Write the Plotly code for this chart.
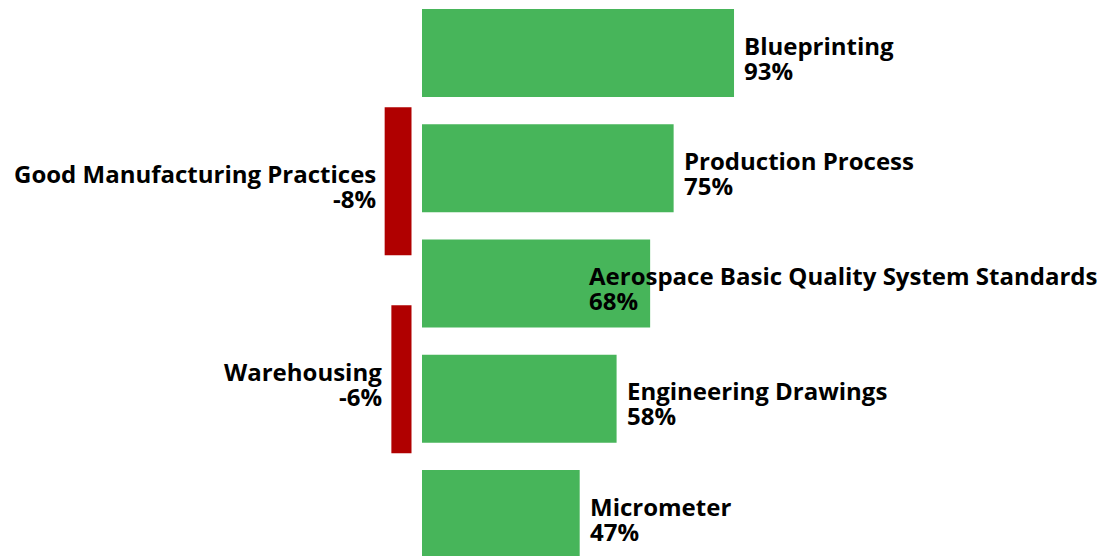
import plotly.graph_objects as go

# Skills gaining share (green) and losing share (red), in percent
gain_skills = ["Blueprinting", "Production Process", "Aerospace Basic Quality System Standards",
               "Engineering Drawings", "Micrometer"]
gain_values = [93, 75, 68, 58, 47]

loss_skills = ["Good Manufacturing Practices", "Warehousing"]
loss_values = [-8, -6]

# ---- layout constants (pixels) ----
W, H = 1111, 556
PX_PER_PCT = 3.355
GAIN_ZERO_PX = 422
LOSS_ZERO_PX = 411.5
GAIN_FIRST_CENTER, GAIN_STEP, GAIN_BAR = 53, 115.25, 88
LOSS_FIRST_CENTER, LOSS_STEP, LOSS_BAR = 181.2, 198, 148

GREEN = "#47B55A"
RED = "#B00000"
FONT = dict(family="Open Sans", size=24, color="#000000")

# horizontal shift of each gain label from its bar end (one label is pulled back to stay on canvas)
gain_label_shift = [8, 8, -63, 8, 8]

fig = go.Figure()

fig.add_trace(go.Bar(
    x=gain_values, y=list(range(len(gain_values))), orientation="h",
    marker=dict(color=GREEN, line=dict(width=0)),
    width=GAIN_BAR / GAIN_STEP, xaxis="x", yaxis="y",
    hoverinfo="skip", showlegend=False,
))
fig.add_trace(go.Bar(
    x=loss_values, y=list(range(len(loss_values))), orientation="h",
    marker=dict(color=RED, line=dict(width=0)),
    width=LOSS_BAR / LOSS_STEP, xaxis="x2", yaxis="y2",
    hoverinfo="skip", showlegend=False,
))

# each label is two tightly spaced lines: skill name, then its percentage
annotations = []
NAME_SHIFT, VALUE_SHIFT = 8, -17
LABEL_BOX = dict(showarrow=False, yanchor="middle", font=FONT)
for i, (name, val) in enumerate(zip(gain_skills, gain_values)):
    for txt, ys in ((f"<b>{name}</b>", NAME_SHIFT), (f"<b>{val}%</b>", VALUE_SHIFT)):
        annotations.append(dict(
            x=val, y=i, xref="x", yref="y", text=txt,
            xanchor="left", xshift=gain_label_shift[i], yshift=ys, align="left", **LABEL_BOX,
        ))
for i, (name, val) in enumerate(zip(loss_skills, loss_values)):
    for txt, ys in ((f"<b>{name}</b>", NAME_SHIFT), (f"<b>{val}%</b>", VALUE_SHIFT)):
        annotations.append(dict(
            x=val, y=i, xref="x2", yref="y2", text=txt,
            xanchor="right", xshift=-7, yshift=ys, align="right", **LABEL_BOX,
        ))

hidden = dict(showgrid=False, zeroline=False, showticklabels=False, showline=False, ticks="")

fig.update_layout(
    width=W, height=H,
    margin=dict(l=0, r=0, t=0, b=0),
    paper_bgcolor="white", plot_bgcolor="white",
    barmode="overlay",
    xaxis=dict(range=[-GAIN_ZERO_PX / PX_PER_PCT, (W - GAIN_ZERO_PX) / PX_PER_PCT], **hidden),
    xaxis2=dict(range=[-LOSS_ZERO_PX / PX_PER_PCT, (W - LOSS_ZERO_PX) / PX_PER_PCT],
                overlaying="x", **hidden),
    yaxis=dict(range=[(H - GAIN_FIRST_CENTER) / GAIN_STEP, -GAIN_FIRST_CENTER / GAIN_STEP], **hidden),
    yaxis2=dict(range=[(H - LOSS_FIRST_CENTER) / LOSS_STEP, -LOSS_FIRST_CENTER / LOSS_STEP],
                overlaying="y", **hidden),
    annotations=annotations,
)

fig.write_html("out.html")
